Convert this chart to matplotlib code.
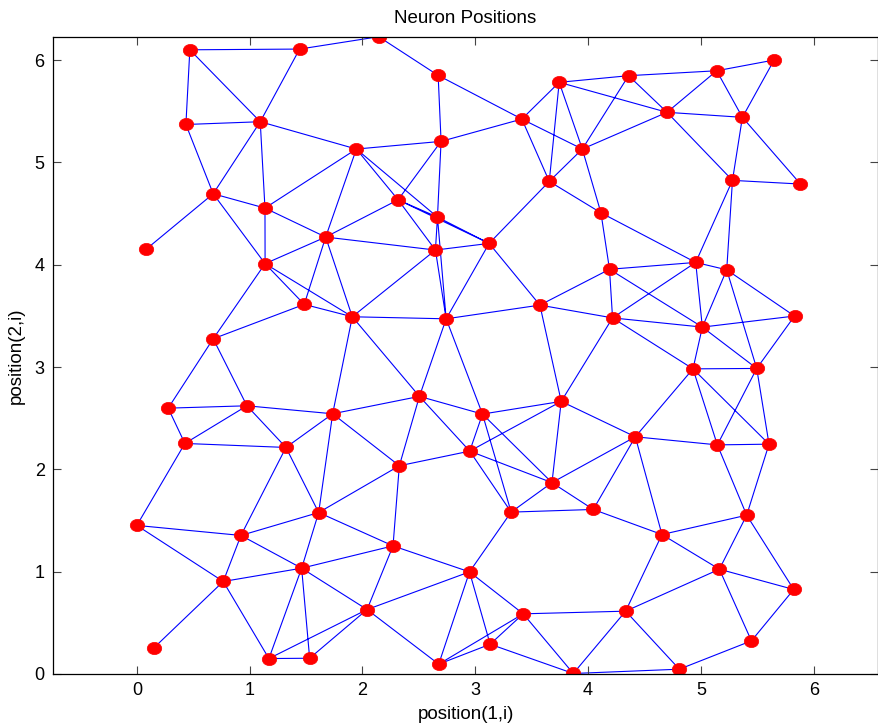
import numpy as np
import matplotlib
matplotlib.use("Agg")
import matplotlib.pyplot as plt
from matplotlib.markers import MarkerStyle
from matplotlib.transforms import Affine2D

plt.rcParams['font.family'] = ['Liberation Sans', 'DejaVu Sans']

# neuron positions
pos_x = [0.470, 1.443, 2.144, 0.435, 1.094, 2.671, 3.744, 4.359, 5.140, 5.649,
         3.413, 4.700, 5.368, 2.697, 1.946, 3.949, 0.677, 1.136, 2.316, 2.665,
         3.656, 4.114, 5.280, 5.883, 0.085, 1.674, 2.647, 3.123, 1.137, 4.190,
         4.954, 5.229, 1.484, 1.910, 2.742, 3.573, 4.217, 5.013, 5.830, 0.677,
         4.930, 5.495, 0.278, 0.976, 1.736, 2.505, 3.064, 3.762, 0.426, 1.322,
         2.951, 2.327, 4.419, 5.146, 5.604, 3.680, 0.000, 0.923, 1.612, 3.318,
         4.046, 4.655, 5.406, 2.271, 1.461, 0.766, 2.949, 5.164, 5.823, 2.041,
         3.425, 4.333, 5.448, 3.132, 0.148, 1.171, 1.532, 2.676, 3.869, 4.809]
pos_y = [6.100, 6.107, 6.228, 5.370, 5.397, 5.850, 5.782, 5.847, 5.895, 6.000,
         5.423, 5.489, 5.440, 5.205, 5.130, 5.130, 4.693, 4.553, 4.634, 4.465,
         4.814, 4.507, 4.824, 4.788, 4.153, 4.270, 4.143, 4.208, 4.010, 3.955,
         4.022, 3.950, 3.612, 3.491, 3.471, 3.605, 3.480, 3.390, 3.498, 3.276,
         2.982, 2.986, 2.598, 2.621, 2.543, 2.713, 2.540, 2.664, 2.253, 2.214,
         2.178, 2.035, 2.318, 2.239, 2.246, 1.870, 1.452, 1.354, 1.578, 1.582,
         1.608, 1.363, 1.552, 1.252, 1.034, 0.904, 0.998, 1.024, 0.826, 0.630,
         0.588, 0.614, 0.324, 0.291, 0.252, 0.151, 0.154, 0.096, 0.005, 0.047]

# links between neurons (index pairs)
links = [
    (0, 1), (0, 3), (0, 4), (1, 4), (1, 2), (2, 5), (3, 4), (3, 16), (4, 16), (4, 17), (4, 14),
    (16, 17), (16, 24), (16, 28), (17, 14), (17, 25), (17, 28), (25, 28), (25, 18), (25, 14),
    (25, 32), (25, 33), (25, 26), (28, 32), (28, 39), (28, 33), (32, 33), (32, 39), (39, 42),
    (39, 43), (42, 43), (42, 48), (43, 48), (43, 49), (43, 44), (48, 49), (44, 49), (44, 33),
    (48, 56), (49, 57), (49, 58), (44, 58),
    (5, 13), (5, 10), (6, 10), (6, 20), (6, 15), (6, 7), (6, 11), (15, 7), (15, 11), (10, 15),
    (10, 20), (10, 13), (20, 15), (20, 21), (20, 27), (15, 21), (21, 29), (21, 30),
    (13, 18), (13, 19), (14, 13), (14, 18), (14, 19), (18, 19), (18, 27), (19, 27), (18, 26),
    (19, 26), (26, 27), (19, 34), (26, 34), (26, 33), (27, 34), (27, 35),
    (7, 8), (7, 11), (8, 9), (8, 11), (8, 12), (9, 12), (11, 12), (11, 22), (12, 22), (12, 23),
    (22, 23), (22, 30), (22, 31),
    (29, 30), (29, 36), (29, 37), (29, 35), (30, 31), (30, 36), (30, 37), (31, 37), (31, 38),
    (31, 41), (36, 37), (37, 38), (37, 40), (37, 41), (36, 40), (35, 36), (36, 47), (38, 41),
    (40, 41), (40, 52), (40, 53), (40, 54), (41, 53), (41, 54), (52, 53), (53, 54), (47, 52),
    (52, 55), (52, 60), (52, 61), (53, 62), (54, 62),
    (33, 34), (33, 45), (34, 45), (34, 46), (34, 35), (35, 47), (45, 44), (45, 51), (45, 46),
    (45, 50), (46, 47), (46, 50), (46, 55), (46, 59), (47, 50), (47, 55), (44, 51), (50, 51),
    (50, 55), (50, 59), (51, 58), (51, 63),
    (55, 59), (55, 60), (59, 60), (59, 66), (58, 63), (63, 64), (63, 66), (63, 69), (66, 69),
    (66, 70), (66, 73), (66, 77), (69, 77), (69, 64), (69, 75), (69, 76), (70, 73), (70, 77),
    (73, 77), (70, 78), (73, 78), (70, 71), (71, 78), (78, 79),
    (60, 61), (61, 62), (61, 67), (61, 71), (62, 67), (62, 68), (67, 68), (67, 71), (67, 72),
    (68, 72), (71, 79), (72, 79),
    (56, 57), (56, 65), (57, 58), (57, 64), (57, 65), (58, 64), (64, 65), (64, 75), (64, 76),
    (65, 74), (65, 75), (75, 76),
]

x_ticks = [0, 1, 2, 3, 4, 5, 6]
y_ticks = [0, 1, 2, 3, 4, 5, 6]

fig = plt.figure(figsize=(8.79, 7.23), dpi=100)
ax = fig.add_axes([53 / 879, 49 / 723, 825 / 879, 637 / 723])

px = np.array(pos_x)
py = np.array(pos_y)
seg_x, seg_y = [], []
for a, b in links:
    seg_x += [px[a], px[b], np.nan]
    seg_y += [py[a], py[b], np.nan]
ax.plot(seg_x, seg_y, color='#0000ff', lw=0.8, zorder=1)

oval = MarkerStyle('o', transform=Affine2D().scale(1.18, 1.0))
ax.plot(px, py, linestyle='none', marker=oval, markersize=8.8,
        markerfacecolor='#ff0000', markeredgecolor='#ff0000', markeredgewidth=0.5, zorder=2)

ax.set_xlim(-0.743, 6.57)
ax.set_ylim(0, 6.225)
ax.set_xticks(x_ticks)
ax.set_yticks(y_ticks)
ax.tick_params(direction='in', length=5.5, width=0.8, color='#444444', labelsize=13,
               top=True, right=True, pad=6)
for s in ax.spines.values():
    s.set_linewidth(0.9)

ax.set_title('Neuron Positions', fontsize=13.5, pad=10)
ax.set_xlabel('position(1,i)', fontsize=13.5, labelpad=5)
ax.set_ylabel('position(2,i)', fontsize=13.5, labelpad=7)

fig.savefig('out.png', dpi=100)
